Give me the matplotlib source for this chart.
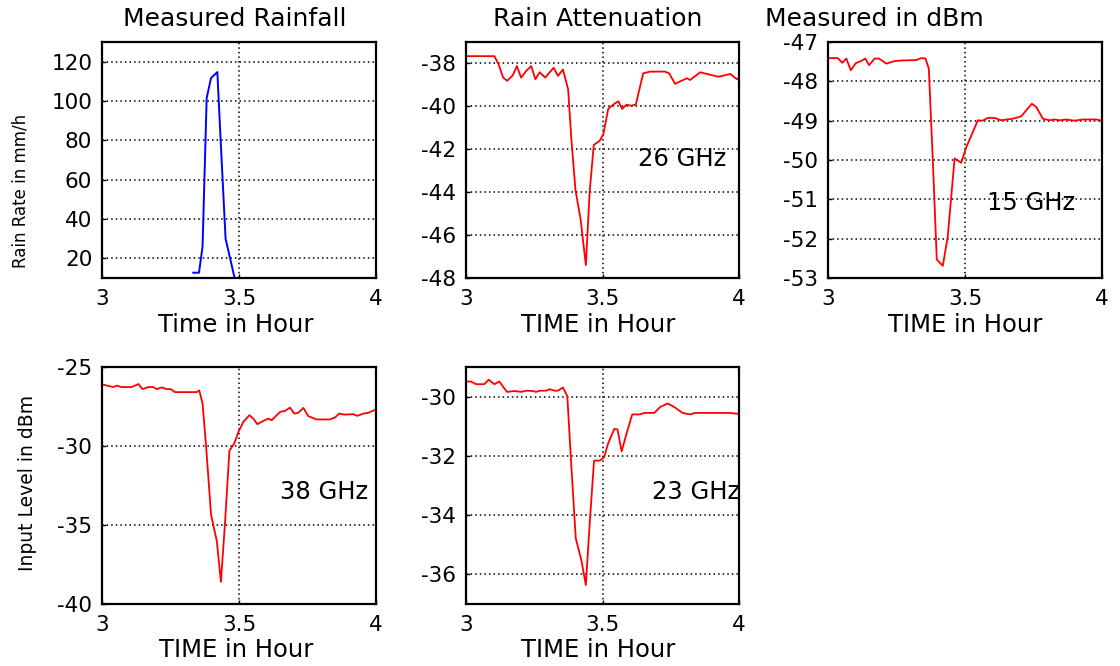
import matplotlib

matplotlib.use("Agg")
import matplotlib.pyplot as plt

plt.rcParams["font.family"] = ["DejaVu Sans"]
plt.rcParams["axes.unicode_minus"] = False

# Measured rainfall (rain rate, mm/h)
t_rain = [3.333, 3.354, 3.367, 3.382, 3.398, 3.421, 3.433, 3.451, 3.484, 3.49]
rain = [12.7, 12.7, 26, 101.5, 111.7, 114.7, 80, 30, 10, 10]

# 26 GHz received level (dBm)
t_26 = [3.0, 3.104, 3.119, 3.136, 3.151, 3.172, 3.186, 3.202, 3.221, 3.239,
        3.254, 3.27, 3.29, 3.321, 3.337, 3.355, 3.374, 3.386, 3.401, 3.42,
        3.439, 3.453, 3.468, 3.49, 3.503, 3.521, 3.539, 3.558, 3.572, 3.588,
        3.604, 3.622, 3.649, 3.674, 3.729, 3.744, 3.766, 3.784, 3.809, 3.821,
        3.858, 3.889, 3.925, 3.968, 3.993, 4.0]
lvl_26 = [-37.66, -37.66, -38.03, -38.66, -38.81, -38.54, -38.12, -38.66, -38.34, -38.12,
          -38.74, -38.41, -38.66, -38.2, -38.58, -38.28, -39.2, -41.53, -43.9, -45.28,
          -47.4, -43.98, -41.8, -41.6, -41.3, -40.12, -39.92, -39.76, -40.12, -39.92,
          -39.97, -39.92, -38.46, -38.38, -38.38, -38.46, -38.95, -38.84, -38.69, -38.77,
          -38.41, -38.51, -38.62, -38.49, -38.74, -38.66]

# 15 GHz received level (dBm)
t_15 = [3.0, 3.036, 3.052, 3.067, 3.083, 3.101, 3.122, 3.136, 3.15, 3.17,
        3.186, 3.213, 3.24, 3.267, 3.322, 3.34, 3.356, 3.368, 3.383, 3.397,
        3.419, 3.437, 3.462, 3.486, 3.505, 3.547, 3.565, 3.583, 3.608, 3.632,
        3.675, 3.705, 3.744, 3.76, 3.784, 3.808, 3.826, 3.845, 3.869, 3.9,
        3.93, 3.98, 4.0]
lvl_15 = [-47.41, -47.41, -47.53, -47.42, -47.72, -47.54, -47.48, -47.42, -47.59, -47.42,
          -47.42, -47.55, -47.49, -47.47, -47.46, -47.41, -47.42, -47.68, -50.09, -52.53,
          -52.69, -51.95, -49.96, -50.07, -49.67, -48.99, -49.0, -48.93, -48.93, -48.99,
          -48.95, -48.89, -48.57, -48.65, -48.95, -48.99, -48.97, -48.99, -48.97, -49.0,
          -48.97, -48.97, -49.0]

# 38 GHz received level (dBm)
t_38 = [3.0, 3.041, 3.054, 3.072, 3.108, 3.133, 3.148, 3.169, 3.187, 3.2,
        3.218, 3.236, 3.251, 3.266, 3.346, 3.355, 3.367, 3.38, 3.398, 3.419,
        3.434, 3.449, 3.465, 3.483, 3.498, 3.516, 3.538, 3.552, 3.567, 3.589,
        3.607, 3.619, 3.65, 3.668, 3.686, 3.702, 3.716, 3.735, 3.753, 3.783,
        3.832, 3.85, 3.866, 3.883, 3.917, 3.932, 3.954, 3.972, 3.993, 4.0]
lvl_38 = [-26.1, -26.27, -26.18, -26.27, -26.27, -26.08, -26.4, -26.27, -26.27, -26.4,
          -26.29, -26.4, -26.4, -26.59, -26.59, -26.48, -27.31, -30.04, -34.34, -36.02,
          -38.6, -34.86, -30.3, -29.83, -29.1, -28.47, -28.05, -28.26, -28.62, -28.41,
          -28.26, -28.37, -27.84, -27.78, -27.57, -27.95, -27.9, -27.59, -28.11, -28.32,
          -28.32, -28.2, -27.95, -28.01, -27.99, -28.09, -27.95, -27.9, -27.74, -27.74]

# 23 GHz received level (dBm)
t_23 = [3.004, 3.018, 3.037, 3.067, 3.083, 3.104, 3.122, 3.15, 3.178, 3.202,
        3.221, 3.245, 3.257, 3.27, 3.294, 3.306, 3.325, 3.337, 3.355, 3.371,
        3.386, 3.402, 3.423, 3.439, 3.453, 3.469, 3.49, 3.506, 3.521, 3.543,
        3.555, 3.57, 3.588, 3.609, 3.637, 3.653, 3.69, 3.711, 3.739, 3.766,
        3.793, 3.821, 3.839, 3.889, 3.968, 3.993, 4.0]
lvl_23 = [-29.49, -29.49, -29.58, -29.58, -29.43, -29.58, -29.49, -29.84, -29.81, -29.84,
          -29.8, -29.81, -29.84, -29.8, -29.8, -29.75, -29.8, -29.8, -29.69, -29.98,
          -32.36, -34.78, -35.54, -36.36, -34.29, -32.16, -32.16, -32.04, -31.57, -31.09,
          -31.11, -31.85, -31.25, -30.6, -30.6, -30.55, -30.55, -30.35, -30.23, -30.37,
          -30.55, -30.6, -30.55, -30.55, -30.55, -30.58, -30.55]

x_ticks = [3, 3.5, 4]
x_tick_labels = ["3", "3.5", "4"]

W, H = 1120, 666
fig = plt.figure(figsize=(W / 100, H / 100), dpi=100, facecolor="white")


# axes from pixel box (left, top, right, bottom)
def add_panel(l, t, r, b):
    return fig.add_axes([l / W, 1 - b / H, (r - l) / W, (b - t) / H])


def style(ax, ylim, yticks):
    ax.set_xlim(3, 4)
    ax.set_ylim(*ylim)
    ax.set_xticks(x_ticks)
    ax.set_xticklabels(x_tick_labels)
    ax.set_yticks(yticks)
    ax.set_yticklabels([f"{v:g}" for v in yticks])
    ax.tick_params(direction="in", length=3, width=1, labelsize=15.5, colors="black")
    ax.tick_params(axis="x", pad=8)
    ax.tick_params(axis="y", pad=7)
    ax.grid(True, color="black", linestyle=(0, (1, 2)), linewidth=1.1)
    for sp in ax.spines.values():
        sp.set_linewidth(1.6)
        sp.set_color("black")


ax1 = add_panel(102, 42, 376, 278)
ax2 = add_panel(466, 42, 739, 278)
ax3 = add_panel(828, 42, 1102, 278)
ax4 = add_panel(102, 367, 376, 604)
ax5 = add_panel(466, 367, 739, 604)

ax1.plot(t_rain, rain, color="#0000ff", linewidth=1.4)
style(ax1, (10, 130), [20, 40, 60, 80, 100, 120])

ax2.plot(t_26, lvl_26, color="#ff0000", linewidth=1.3)
style(ax2, (-48, -37), [-48, -46, -44, -42, -40, -38])
ax2.text(3.63, -42.45, "26 GHz", fontsize=17.5, ha="left", va="center")

ax3.plot(t_15, lvl_15, color="#ff0000", linewidth=1.3)
style(ax3, (-53, -47), [-53, -52, -51, -50, -49, -48, -47])
ax3.text(3.579, -51.1, "15 GHz", fontsize=17.5, ha="left", va="center")

ax4.plot(t_38, lvl_38, color="#ff0000", linewidth=1.3)
style(ax4, (-40, -25), [-40, -35, -30, -25])
ax4.text(3.65, -32.94, "38 GHz", fontsize=17.5, ha="left", va="center")

ax5.plot(t_23, lvl_23, color="#ff0000", linewidth=1.3)
style(ax5, (-37, -29), [-36, -34, -32, -30])
ax5.text(3.68, -33.22, "23 GHz", fontsize=17.5, ha="left", va="center", clip_on=False)


# free text placed in pixel coordinates
def label(x, y, s, **kw):
    fig.text(x / W, 1 - y / H, s, ha="center", va="center", **kw)


label(235, 19, "Measured Rainfall", fontsize=18)
label(598, 19, "Rain Attenuation", fontsize=18)
label(874, 19, "Measured in dBm", fontsize=18)
label(236, 325, "Time in Hour", fontsize=17.5)
label(598, 325, "TIME in Hour", fontsize=17.5)
label(965, 325, "TIME in Hour", fontsize=17.5)
label(236, 650, "TIME in Hour", fontsize=17.5)
label(598, 650, "TIME in Hour", fontsize=17.5)
label(21, 191, "Rain Rate in mm/h", fontsize=12, rotation=90)
label(28, 483, "Input Level in dBm", fontsize=13.5, rotation=90)

fig.savefig("out.png", dpi=100, facecolor="white")
